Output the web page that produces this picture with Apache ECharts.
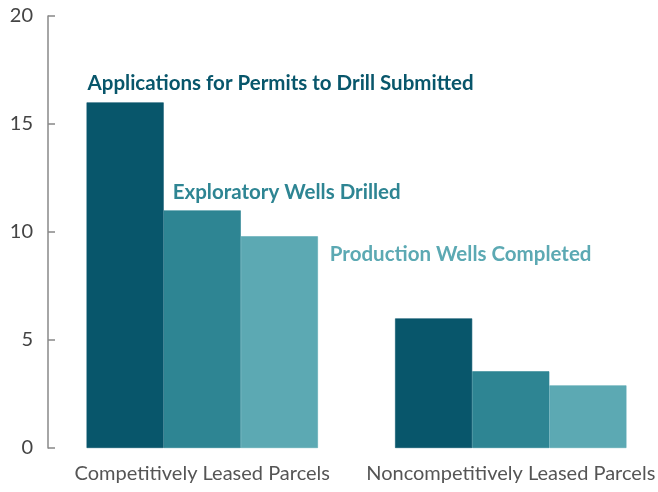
<!DOCTYPE html>
<html>
<head>
<meta charset="utf-8">
<script src="https://cdn.jsdelivr.net/npm/echarts@6/dist/echarts.min.js"></script>
<style>
  html, body { margin: 0; padding: 0; background: #fff; }
  #chart { width: 658px; height: 492px; }
</style>
</head>
<body>
<div id="chart"></div>
<script>
// categories and values
var categories = ['Competitively Leased Parcels', 'Noncompetitively Leased Parcels']
var seriesNames = ['Applications for Permits to Drill Submitted', 'Exploratory Wells Drilled', 'Production Wells Completed']
var permits = [16, 6]
var exploratory = [11, 3.55]
var production = [9.8, 2.9]
var yTicks = [0, 5, 10, 15, 20]

var colors = ['#08566b', '#2e8593', '#5ca9b3']
var labelPos = [[1, -19], [9, -18], [89, 18]]
var font = 'Lato, "Open Sans", sans-serif'

function makeSeries (name, values, idx) {
  return {
    name: name,
    type: 'bar',
    barGap: '0%',
    barCategoryGap: '25%',
    // thin border of the same colour hides the seam between bars
    itemStyle: { color: colors[idx], borderColor: colors[idx], borderWidth: 0.6 },
    data: values.map(function (v, i) {
      if (i !== 0) return v
      // only the first group carries the series name
      return {
        value: v,
        label: {
          show: true,
          formatter: name,
          position: labelPos[idx],
          align: 'left',
          verticalAlign: 'middle',
          color: colors[idx],
          fontFamily: font,
          fontWeight: 'bold',
          fontSize: 20.5
        }
      }
    })
  }
}

var chart = echarts.init(document.getElementById('chart'))
chart.setOption({
  animation: false,
  grid: { left: 48, right: -7, top: 16, bottom: 44, outerBoundsMode: 'none', containLabel: false },
  xAxis: {
    type: 'category',
    data: categories,
    axisLine: { show: false },
    axisTick: { show: false },
    axisLabel: { interval: 0, hideOverlap: false, color: '#555', fontFamily: font, fontSize: 20, margin: 16 }
  },
  yAxis: {
    type: 'value',
    min: yTicks[0],
    max: yTicks[yTicks.length - 1],
    interval: 5,
    splitLine: { show: false },
    axisLine: { show: true, lineStyle: { color: '#888', width: 1.5 } },
    axisTick: { show: true, inside: true, length: 7, lineStyle: { color: '#888', width: 1.5 } },
    axisLabel: { color: '#444', fontFamily: font, fontSize: 20, margin: 15 }
  },
  series: [
    makeSeries(seriesNames[0], permits, 0),
    makeSeries(seriesNames[1], exploratory, 1),
    makeSeries(seriesNames[2], production, 2)
  ]
})
</script>
</body>
</html>
